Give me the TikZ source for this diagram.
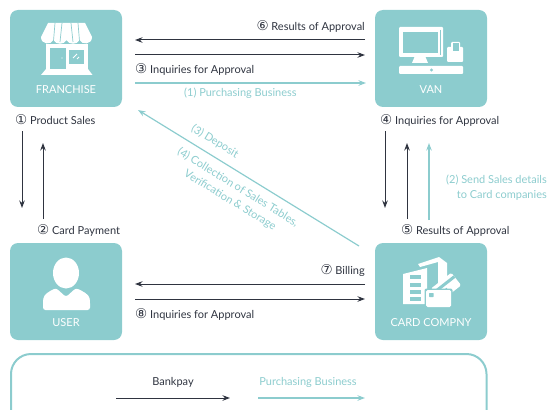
\documentclass[tikz,border=0pt]{standalone}
\usepackage{fontspec}
\usepackage{xcolor}
\setmainfont{Lato}
\newfontfamily\circfont{DejaVu Sans}
\usetikzlibrary{arrows.meta}
\definecolor{teal}{HTML}{8CCCCE}
\definecolor{ink}{HTML}{2F3440}
\newcommand{\num}[1]{{\circfont\fontsize{13.5}{13}\selectfont\raisebox{-0.8pt}{#1}}}
\tikzset{
  box/.style={fill=teal, rounded corners=8pt, minimum width=112pt, minimum height=97pt, inner sep=0pt},
  boxlab/.style={text=white, font=\fontsize{11}{13}\selectfont},
  darkline/.style={draw=ink, line width=1pt, -{Stealth[length=7.5pt,width=5.5pt]}},
  tealline/.style={draw=teal, line width=1.2pt, -{Stealth[length=7.5pt,width=5.5pt]}},
  darklab/.style={text=ink, font=\fontsize{11}{15}\selectfont, inner sep=0pt},
  teallab/.style={text=teal, font=\fontsize{11}{15}\selectfont, inner sep=0pt},
  icon/.style={fill=white, draw=none},
  hole/.style={fill=teal, draw=none},
}
\begin{document}
\begin{tikzpicture}[x=1pt,y=-1pt]
  \useasboundingbox (0,0) rectangle (548,409);
  \clip (0,0) rectangle (548,409);

  \node[box] (franchise) at (66,58.5) {};
  \node[box] (van) at (431,58.5) {};
  \node[box] (user) at (66,291.5) {};
  \node[box] (card) at (431,291.5) {};
  \node[boxlab] (franchiselab) at (66,89.5) {FRANCHISE};
  \node[boxlab] (vanlab) at (431,89.5) {VAN};
  \node[boxlab] (userlab) at (66,322.5) {USER};
  \node[boxlab] (cardlab) at (431,322.5) {CARD COMPNY};

  % shop
  \fill[icon] (48,23) -- (85,23) -- (92,37) .. controls (92,45) and (82,45) .. (79.5,40)
    .. controls (77,45) and (69,45) .. (66.5,40) .. controls (64,45) and (56,45) .. (53.5,40)
    .. controls (51,45) and (41,45) .. (41,37) -- cycle;
  \draw[teal,line width=0.7pt] (55,23) -- (53.5,41) (62,23) -- (60,42) (71,23) -- (73,42) (78,23) -- (79.5,41);
  \fill[icon] (46,44) rectangle (88,69);
  \fill[icon] (46,69) -- (88,69) -- (92.5,75) -- (41,75) -- cycle;
  \fill[hole] (50,48) rectangle (65.5,69);
  \fill[icon] (62,58) circle (0.7);
  \fill[hole] (69,50.5) rectangle (84,64.5);
  \draw[white,line width=1pt] (73,58) -- (77,54) (77,59) -- (79,57);

  % terminal
  \fill[icon,rounded corners=1pt] (399,27) rectangle (443,57);
  \fill[hole] (403,32) rectangle (438,53);
  \draw[teal,line width=0.4pt] (440,30) -- (440,55);
  \fill[icon] (414.5,57) -- (425.5,57) -- (428,63) -- (412,63) -- cycle;
  \fill[icon,rounded corners=1pt] (399,66) rectangle (463,74);
  \fill[hole] (431.5,70) circle (1.6);
  \fill[icon,rounded corners=1pt] (447,47) rectangle (463,62);
  \fill[icon,rounded corners=1pt] (451,42) rectangle (460,50);
  \fill[hole] (452.5,43.5) rectangle (458.5,51.5);

  % person
  \fill[icon] (66,273) ellipse (13 and 15.5);
  \fill[icon,rounded corners=2.5pt] (43,310) -- (43,301) .. controls (44,294) and (50,291) .. (56,288)
    -- (66,297) -- (76,288) .. controls (82,291) and (89,294) .. (90,301) -- (90,310) -- cycle;

  % bank and cards
  \fill[icon] (418,264) -- (439,257) -- (447,263) -- (447,284) -- (438,284) -- (438,262) -- (420,267) -- cycle;
  \fill[icon] (403,274) -- (427,268) -- (427,304) -- (403,304) -- cycle;
  \foreach \ya in {275,282.5,290,297}
    \fill[hole] (410,\ya) rectangle (421,\ya+4);
  \begin{scope}[shift={(446,287)},rotate=38]
    \fill[icon,rounded corners=1.5pt] (-13,-8) rectangle (13,8);
    \fill[hole] (-13,-4.5) rectangle (13,-1.5);
    \fill[hole] (-10,1) rectangle (0,2);
  \end{scope}
  \fill[hole,rounded corners=2pt] (424.5,288.5) rectangle (452.5,308.5);
  \fill[icon,rounded corners=1.5pt] (426,290) rectangle (451,307);
  \fill[hole,rounded corners=0.5pt] (429,293) rectangle (433.5,297);

  % end points of the lines
  \coordinate (fa) at (135,40);
  \coordinate (va) at (365,40);
  \coordinate (fb) at (135,55);
  \coordinate (vb) at (365,55);
  \coordinate (fc) at (135,83);
  \coordinate (vc) at (366,83);
  \coordinate (fd) at (138,110);
  \coordinate (cd) at (359,246);
  \coordinate (fe) at (22,131);
  \coordinate (ue) at (22,208);
  \coordinate (ff) at (43,143);
  \coordinate (uf) at (43,219);
  \coordinate (vg) at (385,131);
  \coordinate (cg) at (385,208);
  \coordinate (vh) at (407,143);
  \coordinate (ch) at (407,219);
  \coordinate (vi) at (429,143);
  \coordinate (ci) at (429,220);
  \coordinate (uj) at (135,284);
  \coordinate (cj) at (365,284);
  \coordinate (uk) at (135,299);
  \coordinate (ck) at (365,299);
  \coordinate (la) at (116,398);
  \coordinate (lb) at (230,398);
  \coordinate (lc) at (258,398);
  \coordinate (ld) at (365,398);

  \draw[darkline] (va) -- (fa);
  \draw[darkline] (fb) -- (vb);
  \draw[tealline] (fc) -- (vc);
  \draw[tealline] (cd) -- (fd);
  \draw[darkline] (fe) -- (ue);
  \draw[darkline] (uf) -- (ff);
  \draw[darkline] (vg) -- (cg);
  \draw[darkline] (ch) -- (vh);
  \draw[tealline] (ci) -- (vi);
  \draw[darkline] (cj) -- (uj);
  \draw[darkline] (uk) -- (ck);

  \node[darklab,anchor=east] (six) at (365,26.5) {\num{⑥} Results of Approval};
  \node[darklab,anchor=west] (three) at (135,69.5) {\num{③} Inquiries for Approval};
  \node[teallab,anchor=west] (one) at (184,93.5) {(1) Purchasing Business};
  \node[darklab,anchor=west] (prod) at (15,120) {\num{①} Product Sales};
  \node[darklab,anchor=west] (pay) at (37,230.5) {\num{②} Card Payment};
  \node[darklab,anchor=west] (four) at (380,120.5) {\num{④} Inquiries for Approval};
  \node[darklab,anchor=west] (five) at (401,230.5) {\num{⑤} Results of Approval};
  \node[teallab,anchor=east,align=right] (two) at (547,187.5) {(2) Send Sales details\\to Card companies};
  \node[darklab,anchor=east] (seven) at (365,270.5) {\num{⑦} Billing};
  \node[darklab,anchor=west] (eight) at (135,314.5) {\num{⑧} Inquiries for Approval};
  \node[teallab,rotate=-31.5] (dep) at (215,141.5) {(3) Deposit};
  \node[teallab,rotate=-31.5,align=center] (coll) at (234,194) {(4) Collection of Sales Tables,\\Verification \& Storage};

  % legend
  \draw[teal,line width=2pt,rounded corners=20pt] (11,354) rectangle (486.5,440);
  \node[darklab] (bankpay) at (173,382.5) {Bankpay};
  \node[teallab] (purch) at (308,382.5) {Purchasing Business};
  \draw[darkline] (la) -- (lb);
  \draw[tealline] (lc) -- (ld);
\end{tikzpicture}
\end{document}
